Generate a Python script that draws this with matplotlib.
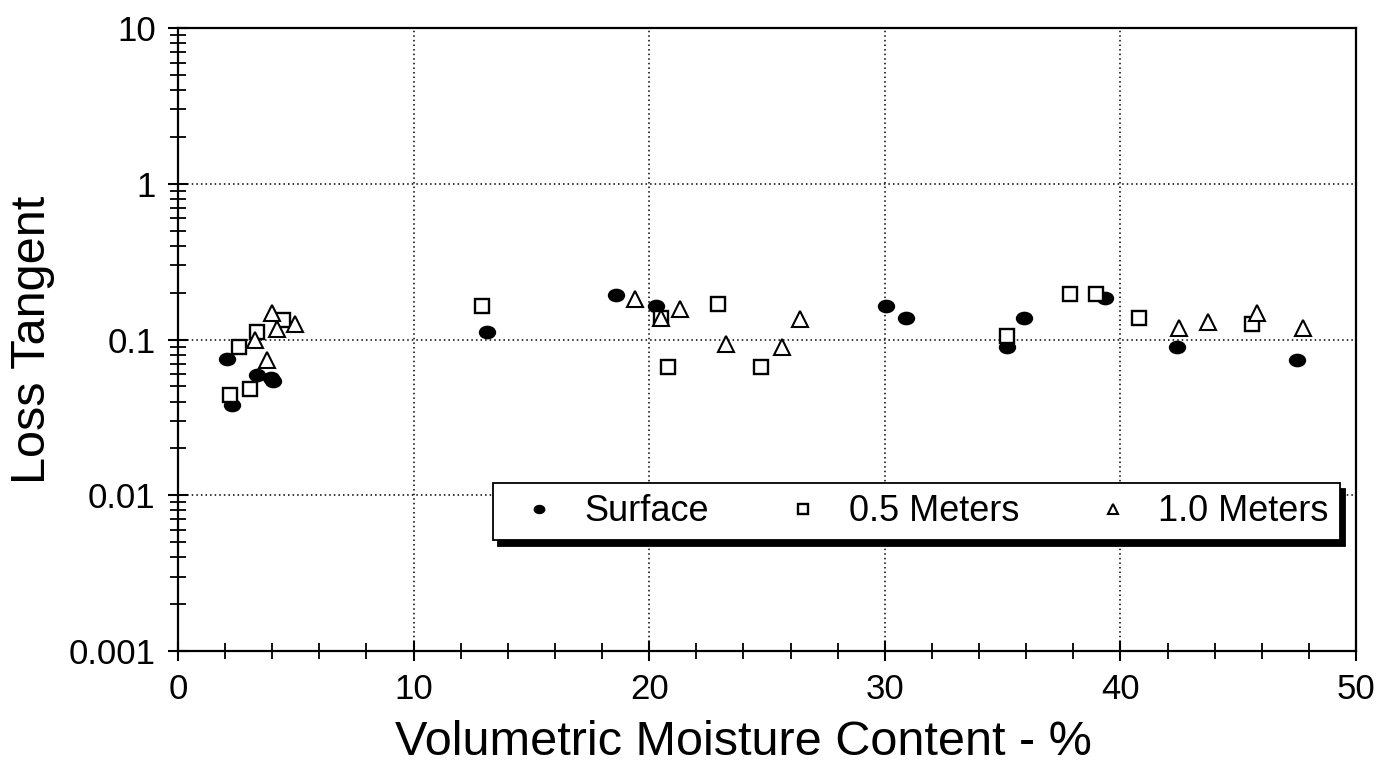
import numpy as np
import matplotlib
matplotlib.use('Agg')
import matplotlib.pyplot as plt
from matplotlib.path import Path
from matplotlib.ticker import MultipleLocator, LogLocator, NullFormatter, FixedFormatter, FixedLocator

plt.rcParams['font.family'] = ['Liberation Sans', 'DejaVu Sans']

# surface samples
surf_x = [2.1, 2.3, 3.35, 3.95, 4.05, 13.1, 18.6, 20.3, 30.05, 30.9, 35.2, 35.9, 39.35, 42.4, 47.5]
surf_y = [0.075, 0.038, 0.059, 0.057, 0.054, 0.111, 0.192, 0.163, 0.163, 0.138, 0.090, 0.138, 0.186, 0.090, 0.074]

# 0.5 m samples
half_x = [2.2, 2.6, 3.05, 3.35, 4.45, 12.9, 20.5, 20.8, 22.9, 24.75, 35.2, 37.85, 38.95, 40.8, 45.6]
half_y = [0.044, 0.090, 0.048, 0.111, 0.134, 0.165, 0.138, 0.067, 0.168, 0.067, 0.105, 0.195, 0.195, 0.138, 0.125]

# 1.0 m samples
one_x = [3.25, 3.8, 4.0, 4.2, 4.95, 19.4, 20.5, 21.3, 23.25, 25.65, 26.4, 42.5, 43.7, 45.8, 47.75]
one_y = [0.099, 0.074, 0.149, 0.116, 0.125, 0.183, 0.138, 0.158, 0.093, 0.089, 0.136, 0.118, 0.129, 0.149, 0.119]

# wide ellipse marker
circ = Path.unit_circle()
ellipse = Path(circ.vertices * np.array([1.3, 1.0]), circ.codes)

fig = plt.figure(figsize=(13.86, 7.79), dpi=100)
ax = fig.add_axes([0.1284, 0.1643, 0.850, 0.7997])

ax.plot(surf_x, surf_y, ls='none', marker=ellipse, ms=11.5, mfc='black', mec='black', label='Surface')
ax.plot(half_x, half_y, ls='none', marker='s', ms=10.5, mfc='white', mec='black', mew=1.7, label='0.5 Meters')
ax.plot(one_x, one_y, ls='none', marker='^', ms=11, mfc='white', mec='black', mew=1.5, label='1.0 Meters')

ax.set_yscale('log')
ax.set_xlim(0, 50)
ax.set_ylim(0.001, 10)

ax.xaxis.set_major_locator(MultipleLocator(10))
ax.xaxis.set_minor_locator(MultipleLocator(2))
ax.yaxis.set_major_locator(FixedLocator([0.001, 0.01, 0.1, 1, 10]))
ax.yaxis.set_major_formatter(FixedFormatter(['0.001', '0.01', '0.1', '1', '10']))
ax.yaxis.set_minor_locator(LogLocator(base=10, subs=np.arange(2, 10), numticks=20))
ax.yaxis.set_minor_formatter(NullFormatter())

ax.tick_params(which='major', direction='inout', length=14, width=1.5, labelsize=25, top=False, right=False)
ax.tick_params(which='minor', direction='inout', length=11, width=1.3, top=False, right=False)
ax.tick_params(axis='y', which='major', pad=9)
ax.tick_params(axis='x', which='major', pad=9)

for s in ax.spines.values():
    s.set_linewidth(1.6)

ax.grid(True, which='major', color='black', ls=(0, (1, 2)), lw=1.1)
ax.set_axisbelow(True)

ax.set_xlabel('Volumetric Moisture Content - %', fontsize=35)
ax.xaxis.set_label_coords(0.48, -0.11)
ax.set_ylabel('Loss Tangent', fontsize=35, labelpad=10)

leg = ax.legend(loc='lower left', bbox_to_anchor=(0.267, 0.178, 0.719, 0.095), mode='expand',
                ncol=3, fontsize=26, markerscale=0.65, handlelength=2.0, handletextpad=0.25,
                borderaxespad=0, fancybox=False, framealpha=1, edgecolor='black',
                borderpad=0.3,
                shadow={'ox': 4, 'oy': -4, 'facecolor': 'black', 'edgecolor': 'black', 'alpha': 1})
leg.get_frame().set_linewidth(1.3)

fig.savefig('out.png', dpi=100)
